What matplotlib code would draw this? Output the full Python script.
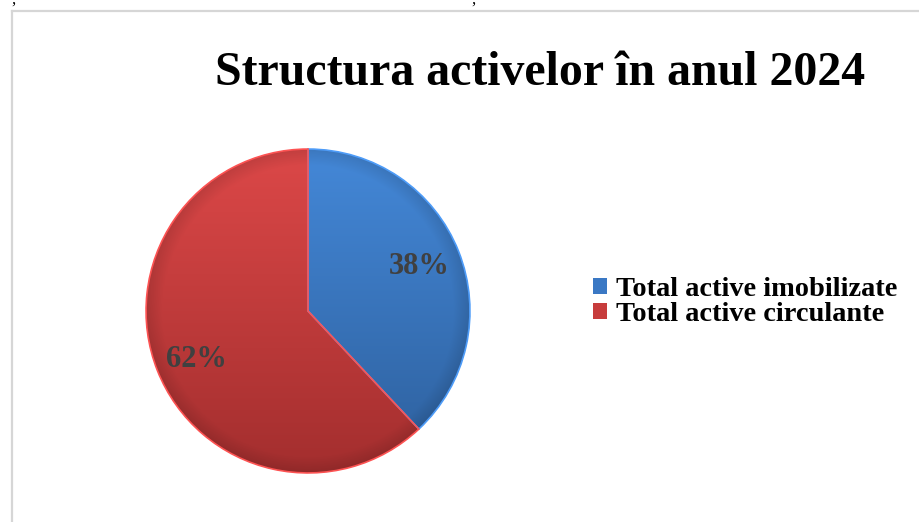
import numpy as np
import matplotlib
matplotlib.use("Agg")
import matplotlib.pyplot as plt
from matplotlib.lines import Line2D
from matplotlib.patches import Wedge

title = "Structura activelor în anul 2024"
categories = ["Total active imobilizate", "Total active circulante"]
shares = [38, 62]
base_colors = ["#3a78c4", "#c73c3c"]
top_colors = ["#4488d8", "#dc4848"]
bottom_colors = ["#2d5f9c", "#a32e2e"]

plt.rcParams['font.family'] = ['Liberation Serif', 'DejaVu Serif']

W, H = 920, 522
fig = plt.figure(figsize=(W / 100, H / 100), dpi=100)
fig.patch.set_facecolor("white")

# frame of the chart area (cropped from a document)
fig.add_artist(Line2D([12 / W, 12 / W], [0, 1 - 11 / H], color="#d6d6d6", lw=1.6))
fig.add_artist(Line2D([12 / W, 1], [1 - 11 / H, 1 - 11 / H], color="#d6d6d6", lw=1.6))
for xp in [13, 473]:
    fig.text(xp / W, 1 - 4 / H, ",", fontsize=12, ha="center", va="baseline", color="black")
fig.text(437 / W, 1 - 4 / H, "\u2019", fontsize=11, ha="center", va="baseline", color="black")

fig.text(540 / W, 1 - 73 / H, title, fontsize=34.5, fontweight="bold",
         ha="center", va="center", color="black")

cx, cy, r = 308, 522 - 311, 162
ax = fig.add_axes([(cx - r - 4) / W, (cy - r - 4) / H, (2 * r + 8) / W, (2 * r + 8) / H])
wedges, texts, autotexts = ax.pie(shares, colors=base_colors, startangle=90, counterclock=False,
                                  autopct="%1.0f%%", pctdistance=0.74,
                                  wedgeprops=dict(linewidth=0))
ax.set_aspect("equal")
ax.axis("off")

# gradient shading with a darker rim to mimic the bevel
yy, xx = np.mgrid[-1:1:400j, -1:1:400j]
rr = np.sqrt(xx ** 2 + yy ** 2)
for w, c1, c2 in zip(wedges, top_colors, bottom_colors):
    a = np.array(matplotlib.colors.to_rgb(c1))
    b = np.array(matplotlib.colors.to_rgb(c2))
    t = ((1 - yy[::-1]) / 2)[..., None]
    img = a * (1 - t) + b * t
    rim = np.clip((rr - 0.9) / 0.1, 0, 1)[..., None]
    img = img * (1 - 0.12 * rim)
    im = ax.imshow(img, extent=(-1, 1, -1, 1), zorder=1, interpolation="bilinear")
    im.set_clip_path(w)
    w.set_zorder(0)
    edge = Wedge(w.center, w.r, w.theta1, w.theta2, fill=False,
                 edgecolor=tuple(np.clip(a * 1.15, 0, 1)), lw=1.2, zorder=2)
    ax.add_patch(edge)
ax.set_xlim(-1.025, 1.025)
ax.set_ylim(-1.025, 1.025)

for t in autotexts:
    t.set_fontsize(22)
    t.set_fontweight("bold")
    t.set_color("#404040")
    t.set_zorder(5)
# the lower label sits a little further down in the original
x2, y2 = autotexts[1].get_position()
autotexts[1].set_position((x2, y2 - 0.03))

leg = fig.legend(wedges, categories, loc="center left", bbox_to_anchor=(593 / W, 1 - 302 / H),
                 frameon=False, prop=dict(weight="bold", size=20.4),
                 handlelength=0.5, handleheight=0.5, handletextpad=0.3, labelspacing=0.0,
                 borderpad=0, borderaxespad=0)

fig.savefig("out.png", dpi=100)
